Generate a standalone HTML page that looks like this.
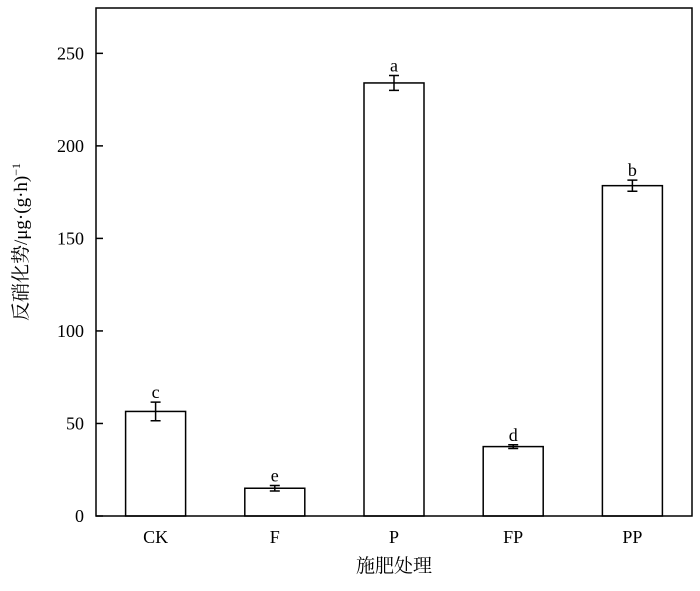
<!DOCTYPE html>
<html><head><meta charset="utf-8"><style>
body{margin:0;background:#fff}
svg text{font-family:"Liberation Serif","Noto Serif CJK SC",serif;fill:#000}
</style></head><body>
<svg width="700" height="586" xmlns="http://www.w3.org/2000/svg" id="chart">
<g id="g"></g>
</svg>
<script>
const categories=["CK","F","P","FP","PP"];
const values=[56.5,15,234,37.5,178.5];
const errors=[5,1.5,4,1,3];
const letters=["c","e","a","d","b"];
const yTicks=[0,50,100,150,200,250];
const L=96,R=692,T=8,B=516,yMax=274.5;
const y=v=>B-(v/yMax)*(B-T);
const bw=(R-L)/categories.length;
const x=i=>L+bw*(i+0.5);
const g=document.getElementById('g');
const NS="http://www.w3.org/2000/svg";
function mk(t,a){const e=document.createElementNS(NS,t);for(const k in a)e.setAttribute(k,a[k]);g.appendChild(e);return e;}
categories.forEach((c,i)=>{
 const r=mk('rect',{x:x(i)-30,y:y(values[i]),width:60,height:B-y(values[i]),fill:'#fff',stroke:'#000','stroke-width':1.5});
 
 
 const yt=y(values[i]+errors[i]),yb=y(values[i]-errors[i]);
 const e=mk('path',{d:`M${x(i)},${yt}V${yb}M${x(i)-5},${yt}H${x(i)+5}M${x(i)-5},${yb}H${x(i)+5}`,stroke:'#000','stroke-width':1.5,fill:'none'});
 
 
 const s=mk('text',{x:x(i),y:yt-4,'text-anchor':'middle','font-size':18});
 s.textContent=letters[i];
 
 
 const t=mk('text',{x:x(i),y:B+27,'text-anchor':'middle','font-size':18});
 t.textContent=c;
 
 
});
yTicks.forEach(v=>{
 const tk=mk('line',{x1:L,x2:L+7,y1:y(v),y2:y(v),stroke:'#000','stroke-width':1.5});
 
 
 const t=mk('text',{x:L-12,y:y(v)+6,'text-anchor':'end','font-size':18});
 t.textContent=v;
 
 
});
const f=mk('rect',{x:L,y:T,width:R-L,height:B-T,fill:'none',stroke:'#000','stroke-width':1.5});


const xt=mk('text',{x:(L+R)/2,y:572,'text-anchor':'middle','font-size':19});
xt.textContent='施肥处理';


const yt=mk('text',{x:0,y:0,'text-anchor':'middle','font-size':19,transform:`translate(27,${(T+B)/2-20}) rotate(-90)`});
yt.innerHTML='反硝化势/μg·(g·h)<tspan dy="-7" font-size="12">−1</tspan>';


</script>
</body></html>
